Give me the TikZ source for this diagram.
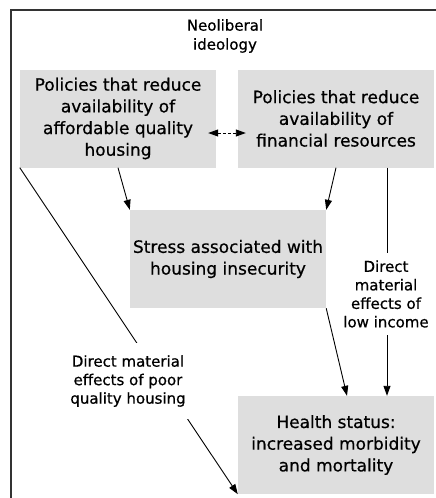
\documentclass[tikz,border=0pt]{standalone}
\usepackage{fontspec}
\setmainfont{DejaVu Sans}
\newfontfamily\medfont[FakeBold=0.6]{DejaVu Sans}
\usepackage{tikz}
\usetikzlibrary{arrows.meta, positioning}

\tikzset{
  factor/.style={fill=black!13, minimum width=196pt, minimum height=98pt,
    align=center, inner sep=0pt, font=\medfont\fontsize{17}{21.7}\selectfont},
  note/.style={fill=white, align=center, inner xsep=5pt, inner ysep=12pt,
    font=\medfont\fontsize{15}{18.5}\selectfont},
  link/.style={-{Triangle[length=10pt,width=7pt]}, line width=0.9pt}
}

\begin{document}
\begin{tikzpicture}[x=1pt, y=-1pt]
        \useasboundingbox (0,0) rectangle (436,498);
        \draw[line width=1.5pt, black!80] (11,498) -- (11,10) -- (436,10);

        \node (neo) at (225,36) [font=\medfont\fontsize{15}{19}\selectfont, align=center] {Neoliberal\\ideology};
        \node[factor] (housing) at (118,118.5) {Policies that reduce\\availability of\\affordable quality\\housing};
        \node[factor] (finance) at (336,118.5) {Policies that reduce\\availability of\\financial resources};
        \node[factor] (stress)  at (228,259)   {Stress associated with\\housing insecurity};
        \node[factor] (health)  at (336,445)   {Health status:\\increased morbidity\\and mortality};

        % direct material paths
        \draw[link] (housing.south west) -- (health.south west);
        \node[note] (poorhouse) at (128,381) {Direct material\\effects of poor\\quality housing};
        \draw[link] (finance.south -| 387,0) -- (health.north -| 387,0);
        \node[note, inner ysep=7pt] (lowinc) at (386,294) {Direct\\material\\effects of\\low income};

        \path[link]
        (housing.south) edge (stress.north west)
        (finance.south) edge (stress.north east)
        (stress.south east) edge ([xshift=11pt]health.north);

        \draw[{Triangle[length=10pt,width=7pt]}-{Triangle[length=10pt,width=7pt]}, line width=0.9pt,
          dash pattern=on 3pt off 2pt]
        ([shift={(-8pt,-14.5pt)}]housing.east) -- ([shift={(8pt,-14.5pt)}]finance.west);
         
    \end{tikzpicture}
\end{document}
